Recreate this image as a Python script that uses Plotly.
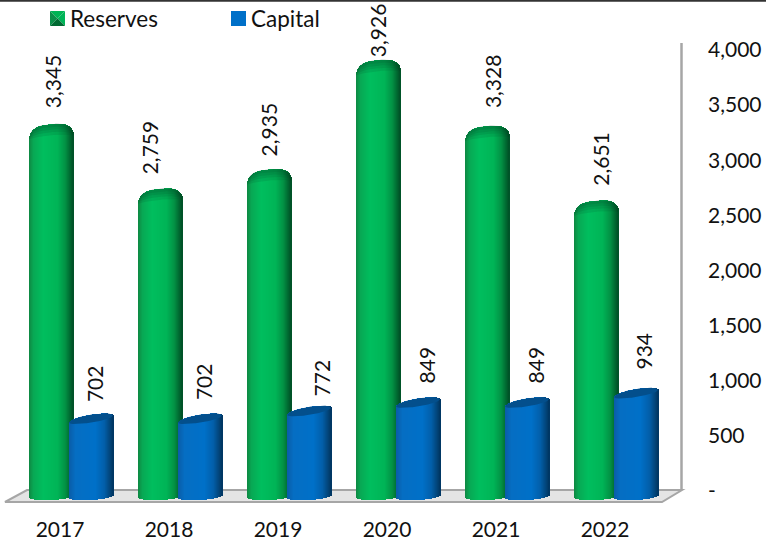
import math
import plotly.graph_objects as go

years = [2017, 2018, 2019, 2020, 2021, 2022]
reserves = [3345, 2759, 2935, 3926, 3328, 2651]
capital = [702, 702, 772, 849, 849, 934]
y_ticks = [0, 500, 1000, 1500, 2000, 2500, 3000, 3500, 4000]
y_labels = ["-", "500", "1,000", "1,500", "2,000", "2,500", "3,000", "3,500", "4,000"]

FONT = "Lato, Carlito, Calibri, sans-serif"
TXT = "#111111"
W, H = 766, 542
MR, MB = 59, 27
PW, PH = W - MR, H - MB
PX_X = 109.0          # px per year
X0 = 60.0             # px of 2017
Y0 = 491.0            # px of value 0
K = 0.11025           # px per value unit
HALF = 22.0
N = 44

# hand placement of the rotated value labels, in px
RES_DX = [-8, -19.5, -9.5, -10, -4, -4]
RES_GAP = [12, 10, 8.5, -1, 14, 11]
CAP_DX = [34, 34, 43, 39, 39, 39]
CAP_GAP = [9, 11, 7, 11.5, 11.5, 16]


def u(px):
    return px / K


def lerp_stops(stops, t):
    for (a, ca), (b, cb) in zip(stops, stops[1:]):
        if t <= b:
            f = (t - a) / (b - a)
            return "rgb(%d,%d,%d)" % tuple(round(p + (q - p) * f) for p, q in zip(ca, cb))
    return "rgb(%d,%d,%d)" % stops[-1][1]


GREEN = [(-1, (14, 135, 66)), (-0.8, (8, 168, 84)), (-0.35, (0, 190, 94)), (0.3, (0, 180, 86)),
         (0.65, (2, 145, 68)), (0.9, (0, 98, 46)), (1, (0, 78, 38))]
BLUE = [(-1, (10, 92, 168)), (-0.7, (5, 110, 195)), (0.2, (0, 112, 200)), (0.6, (2, 95, 170)),
        (0.9, (2, 65, 115)), (1, (0, 52, 96))]


def green_top(t):
    return 2.0 - 2.0 * t + 13 * (1 - math.sqrt(max(0, 1 - abs(t) ** 3.2)))


def green_bottom(t):
    return 496.5 - 1.0 * t + 3.5 * math.sqrt(max(0, 1 - t * t))


def blue_chord(t):
    return 5.5 - 3.5 * t


def blue_top(t):
    return blue_chord(t) - 4.5 * math.sqrt(max(0, 1 - t * t))


def blue_low(t):
    return blue_chord(t) + 3.5 * math.sqrt(max(0, 1 - t * t))


def blue_bottom(t):
    return 496.5 - 1.5 * t + 3.5 * math.sqrt(max(0, 1 - t * t))


fig = go.Figure()


def add_strips(values, centre_px, stops, top, bottom):
    for i in range(N):
        t = -1 + (i + 0.5) * 2 / N
        off = (centre_px + t * HALF) / PX_X
        bases = [u(Y0 - bottom(t))] * len(values)
        heights = [v - u(top(t)) - b for v, b in zip(values, bases)]
        fig.add_trace(go.Bar(
            x=years, y=heights, base=bases,
            width=(2 * HALF / N + 0.35) / PX_X, offset=off,
            marker=dict(color=lerp_stops(stops, t), line=dict(width=0)),
            showlegend=False, hoverinfo="skip",
        ))


add_strips(reserves, -9.0, GREEN, green_top, green_bottom)
add_strips(capital, 31.0, BLUE, blue_top, blue_bottom)


def band(values, centre_px, upper, lower, color):
    cx, cy = [], []
    ts = [-1 + j * 2 / 40 for j in range(41)]
    for yr, v in zip(years, values):
        for t in ts:
            cx.append(yr + (centre_px + t * HALF) / PX_X)
            cy.append(v - u(upper(t)))
        for t in reversed(ts):
            cx.append(yr + (centre_px + t * HALF) / PX_X)
            cy.append(v - u(lower(t)))
        cx.append(None)
        cy.append(None)
    fig.add_trace(go.Scatter(x=cx, y=cy, mode="lines", fill="toself", fillcolor=color,
                             line=dict(width=0), showlegend=False, hoverinfo="skip"))


# shading under the rounded reserve tops
for depth in (3.0, 5.5, 8.0, 11.0):
    band(reserves, -9.0, green_top,
         lambda t, d=depth: green_top(t) + d * math.sqrt(max(0, 1 - t ** 4)),
         "rgba(0,70,35,0.13)")

# top ellipse of every capital cylinder
band(capital, 31.0, blue_top, blue_low, "#034f8c")

# legend entries (keys drawn as shaded squares below)
fig.add_trace(go.Scatter(x=[None], y=[None], mode="markers", name="Reserves",
                         marker=dict(symbol="square", size=10, color="rgba(0,0,0,0)")))
fig.add_trace(go.Scatter(x=[None], y=[None], mode="markers", name="Capital",
                         marker=dict(symbol="square", size=10, color="rgba(0,0,0,0)")))


def label(x, v, px_gap, dx):
    fig.add_annotation(x=x, y=v, text=f"{v:,}", textangle=-90, showarrow=False,
                       xanchor="center", yanchor="bottom", yshift=px_gap, xshift=dx,
                       font=dict(family=FONT, size=21, color=TXT))


for yr, r, c, rdx, rg, cdx, cg in zip(years, reserves, capital, RES_DX, RES_GAP, CAP_DX, CAP_GAP):
    label(yr, r, rg, rdx)
    label(yr, c, cg, cdx)


def px(x):
    return x / PW


def py(y):
    return 1 - y / PH


def path(points, close=True):
    return "M " + " L ".join(f"{px(a):.5f},{py(b):.5f}" for a, b in points) + (" Z" if close else "")


def tri(points, color):
    return dict(type="path", path=path(points), xref="paper", yref="paper", fillcolor=color,
                line=dict(width=0), layer="above")


GREY = "#a6a6a6"
L, R, T, B = 50, 65, 11, 26
MX, MY = (L + R) / 2, (T + B) / 2
shapes = [
    # floor
    dict(type="path", path=path([(5, 502), (27, 490), (682, 490), (662, 502)]),
         xref="paper", yref="paper", fillcolor="#e4e4e4", line=dict(color=GREY, width=2), layer="below"),
    # back wall edge
    dict(type="line", x0=px(681.5), x1=px(681.5), y0=py(43), y1=py(490), xref="paper", yref="paper",
         line=dict(color=GREY, width=2.5), layer="below"),
    # top rule
    dict(type="line", x0=0, x1=766 / PW, y0=py(0.8), y1=py(0.8), xref="paper", yref="paper",
         line=dict(color="#333333", width=2), layer="above"),
    # legend keys
    tri([(L, T), (R, T), (MX, MY)], "#00b455"),
    tri([(R, T), (R, B), (MX, MY)], "#00b458"),
    tri([(L, T), (L, B), (MX, MY)], "#0a8f48"),
    tri([(L, B), (R, B), (MX, MY)], "#006a32"),
    dict(type="rect", x0=px(231), x1=px(246), y0=py(26), y1=py(11), xref="paper", yref="paper",
         fillcolor="#0070c8", line=dict(width=0), layer="above"),
]

fig.update_layout(
    width=W, height=H, autosize=False,
    margin=dict(l=0, r=MR, t=0, b=MB, pad=0, autoexpand=False),
    paper_bgcolor="white", plot_bgcolor="white",
    barmode="overlay", bargap=0,
    shapes=shapes,
    font=dict(family=FONT, size=21, color=TXT),
    legend=dict(orientation="h", x=px(30), y=1 + 3 / PH, xanchor="left", yanchor="top",
                entrywidth=136, entrywidthmode="pixels", bgcolor="rgba(0,0,0,0)",
                font=dict(family=FONT, size=22.5, color=TXT)),
    xaxis=dict(range=[2017 - X0 / PX_X, 2017 + (PW - X0) / PX_X], tickmode="array", tickvals=years,
               ticktext=[str(y) for y in years], showgrid=False, zeroline=False, showline=False,
               ticks="", fixedrange=True),
    yaxis=dict(range=[(Y0 - PH) / K, Y0 / K], side="right", tickmode="array", tickvals=y_ticks,
               ticktext=y_labels, showgrid=False, zeroline=False, showline=False, ticks="",
               fixedrange=True),
)

fig.write_html("out.html", post_script="document.body.style.margin='0';document.documentElement.style.overflow='hidden';",
               config={"displayModeBar": False})
